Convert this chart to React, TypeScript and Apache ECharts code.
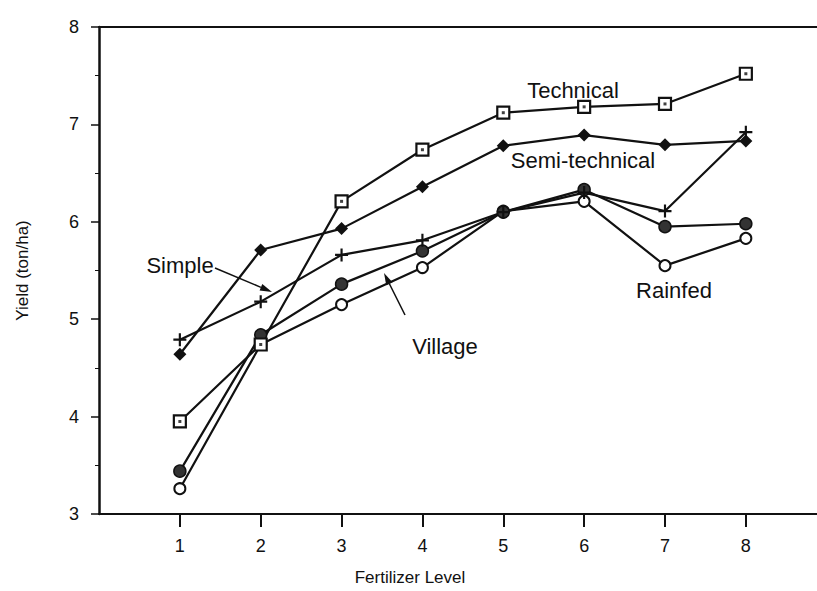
import React, { useEffect, useRef } from "react";
import * as echarts from "echarts";

const levels = [1, 2, 3, 4, 5, 6, 7, 8];
const technical = [3.95, 4.74, 6.21, 6.74, 7.12, 7.18, 7.21, 7.52];
const semiTechnical = [4.64, 5.71, 5.93, 6.36, 6.78, 6.89, 6.79, 6.83];
const simple = [4.79, 5.18, 5.66, 5.81, 6.1, 6.3, 6.11, 6.92];
const village = [3.44, 4.84, 5.36, 5.7, 6.1, 6.33, 5.95, 5.98];
const rainfed = [3.26, 4.74, 5.15, 5.53, 6.11, 6.21, 5.55, 5.83];
const yTicks = [3, 4, 5, 6, 7, 8];

const FONT = '"Liberation Sans", Arial, Helvetica, sans-serif';
const INK = "#111";

const pts = (arr: number[]) => levels.map((x, i) => [x, arr[i]]);

export default function App() {
  const ref = useRef<HTMLDivElement>(null);
  useEffect(() => {
    if (!ref.current) return;
    const chart = echarts.init(ref.current, undefined, { renderer: "svg" });
    const lineBase = {
      type: "line" as const,
      lineStyle: { color: INK, width: 2.2 },
      z: 2,
    };
    const annot = (text: string, x: number, y: number) => ({
      type: "text",
      x,
      y,
      style: {
        text,
        fill: INK,
        font: `22px ${FONT}`,
        align: "center",
        verticalAlign: "middle",
      },
      z: 10,
    });
    const arrow = (x1: number, y1: number, x2: number, y2: number) => {
      const dx = x2 - x1;
      const dy = y2 - y1;
      const len = Math.hypot(dx, dy);
      const ux = dx / len;
      const uy = dy / len;
      const bx = x2 - ux * 12;
      const by = y2 - uy * 12;
      const px = -uy * 3.5;
      const py = ux * 3.5;
      return [
        {
          type: "line",
          shape: { x1, y1, x2: bx, y2: by },
          style: { stroke: INK, lineWidth: 1.5 },
          z: 10,
        },
        {
          type: "polygon",
          shape: {
            points: [
              [x2, y2],
              [bx + px, by + py],
              [bx - px, by - py],
            ],
          },
          style: { fill: INK },
          z: 10,
        },
      ];
    };
    chart.setOption({
      animation: false,
      backgroundColor: "#fff",
      textStyle: { fontFamily: FONT, color: INK },
      grid: {
        left: 99,
        right: 0,
        top: 27,
        bottom: 75,
        show: false,
      },
      xAxis: [
        {
          type: "value",
          min: 0,
          max: 8.88,
          interval: 1,
          name: "Fertilizer Level",
          nameLocation: "middle",
          nameGap: 55,
          nameTextStyle: {
            fontSize: 17,
            color: INK,
            fontFamily: FONT,
            padding: [0, 96, 0, 0],
          },
          axisLine: { show: true, lineStyle: { color: INK, width: 2 } },
          axisTick: {
            show: true,
            length: 13,
            lineStyle: { color: INK, width: 2 },
            customValues: levels,
          },
          axisLabel: {
            fontSize: 18,
            color: INK,
            margin: 23,
            fontFamily: FONT,
            customValues: levels,
          },
          splitLine: { show: false },
        },
        {
          type: "value",
          position: "top",
          min: 0,
          max: 8.88,
          axisLine: { show: true, lineStyle: { color: INK, width: 2 } },
          axisTick: { show: false },
          axisLabel: { show: false },
          splitLine: { show: false },
        },
      ],
      yAxis: {
        type: "value",
        min: 3,
        max: 8,
        interval: 1,
        name: "Yield (ton/ha)",
        nameLocation: "middle",
        nameGap: 68,
        nameTextStyle: { fontSize: 17, color: INK, fontFamily: FONT },
        axisLine: { show: true, lineStyle: { color: INK, width: 2.5 } },
        axisTick: {
          show: true,
          length: 8,
          lineStyle: { color: INK, width: 1.5 },
          customValues: yTicks,
        },
        minorTick: {
          show: true,
          splitNumber: 2,
          length: 4,
          lineStyle: { color: INK, width: 1 },
        },
        axisLabel: { fontSize: 18, color: INK, margin: 20, fontFamily: FONT },
        splitLine: { show: false },
      },
      series: [
        {
          ...lineBase,
          name: "Rainfed",
          data: pts(rainfed),
          symbol: "circle",
          symbolSize: 11,
          itemStyle: { color: "#fff", borderColor: INK, borderWidth: 2 },
        },
        {
          ...lineBase,
          name: "Village",
          data: pts(village),
          symbol: "circle",
          symbolSize: 12,
          itemStyle: { color: "#333", borderColor: INK, borderWidth: 1.5 },
        },
        {
          ...lineBase,
          name: "Simple",
          data: pts(simple),
          symbol: "path://M5 0H7V12H5Z M0 5H12V7H0Z",
          symbolSize: 13,
          itemStyle: { color: INK },
        },
        {
          ...lineBase,
          name: "Semi-technical",
          data: pts(semiTechnical),
          symbol: "diamond",
          symbolSize: 13,
          itemStyle: { color: INK },
        },
        {
          ...lineBase,
          name: "Technical",
          data: pts(technical),
          symbol: "rect",
          symbolSize: 12,
          itemStyle: { color: "#fff", borderColor: INK, borderWidth: 2.2 },
        },
        {
          type: "scatter",
          name: "Technical dot",
          data: pts(technical),
          symbol: "rect",
          symbolSize: 3,
          itemStyle: { color: INK },
          z: 5,
          silent: true,
        },
      ],
      graphic: [
        annot("Technical", 573, 90),
        annot("Semi-technical", 583, 160),
        annot("Simple", 180, 265),
        annot("Village", 445, 346),
        annot("Rainfed", 674, 290),
        ...arrow(215, 268, 272, 292),
        ...arrow(405, 315, 384, 273),
      ],
    });
    return () => chart.dispose();
  }, []);
  return (
    <div
      ref={ref}
      style={{ position: "fixed", left: 0, top: 0, width: 817, height: 591, background: "#fff" }}
    />
  );
}
